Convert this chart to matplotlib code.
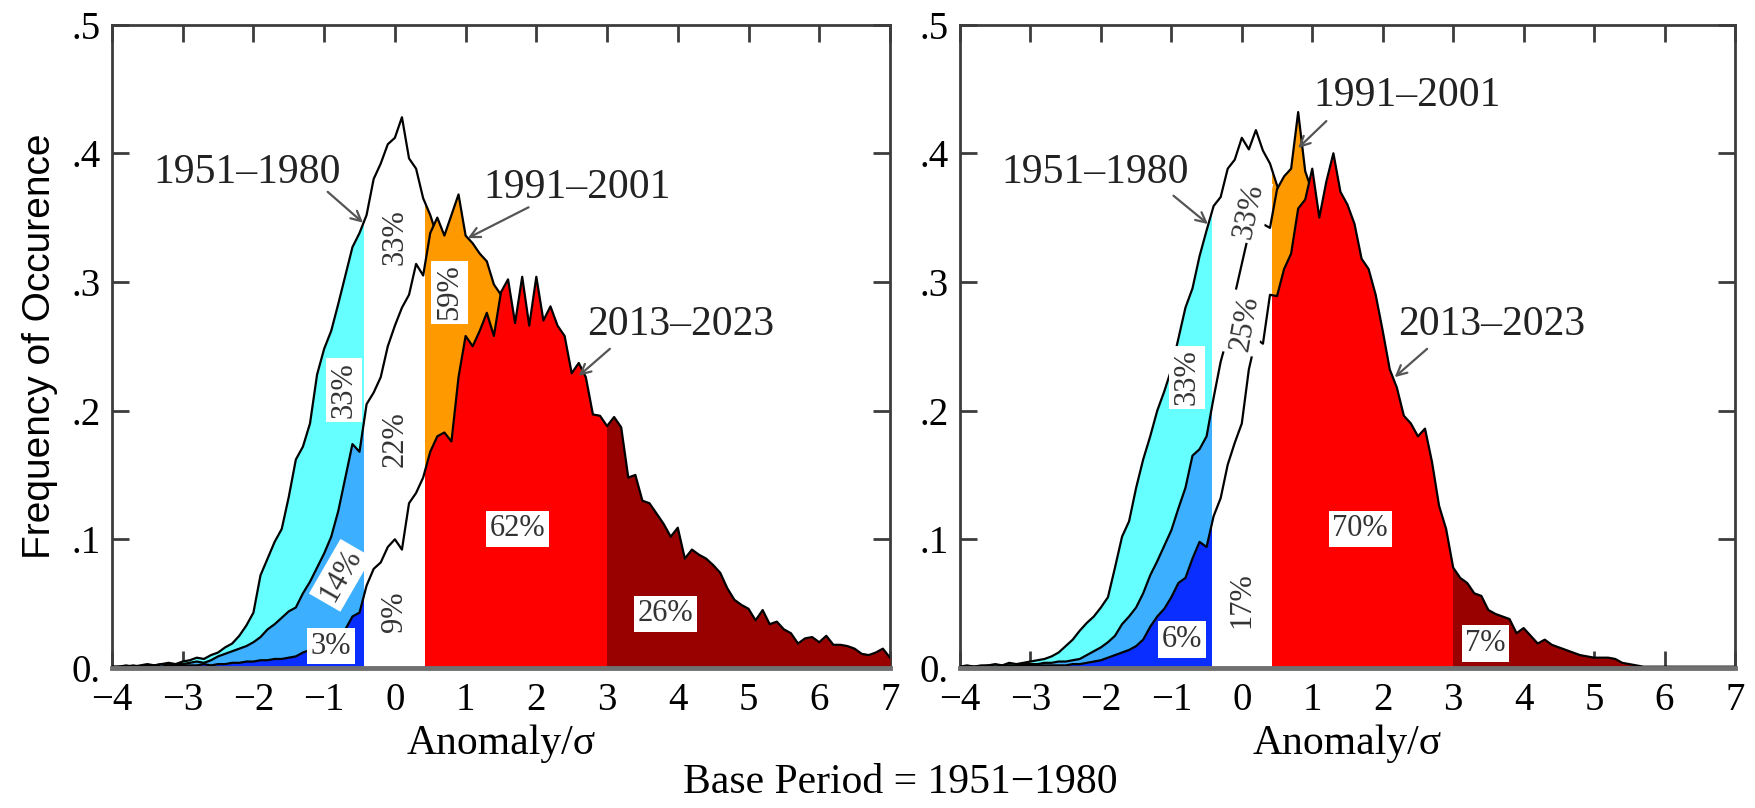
#!/usr/bin/env python3
"""Frequency of occurrence of local temperature anomalies (units of sigma),
three periods per panel, base period 1951-1980.

Output: out.png
"""

import numpy as np
import matplotlib.pyplot as plt
from matplotlib.patches import Rectangle


# bin centres, anomaly / sigma
ANOMALY = np.arange(-40, 71) / 10.0

# ---- left panel --------------------------------------------------------
LEFT_1951_1980 = [
    0.001, 0.001, 0.002, 0.001, 0.002, 0.003, 0.002, 0.003, 0.004, 0.003,
    0.005, 0.006, 0.008, 0.007, 0.010, 0.012, 0.016, 0.019, 0.025, 0.033,
    0.043, 0.072, 0.085, 0.098, 0.108, 0.133, 0.162, 0.172, 0.190, 0.228,
    0.248, 0.262, 0.283, 0.305, 0.327, 0.338, 0.352, 0.380, 0.392, 0.407,
    0.412, 0.428, 0.396, 0.388, 0.365, 0.352, 0.335, 0.310, 0.290, 0.270,
    0.245, 0.220, 0.195, 0.170, 0.150, 0.130, 0.110, 0.094, 0.078, 0.065,
    0.053, 0.043, 0.035, 0.028, 0.022, 0.017, 0.013, 0.010, 0.008, 0.006,
    0.004, 0.003, 0.003, 0.002, 0.002, 0.001, 0.001, 0.001, 0.001, 0.000,
    0.000, 0.000, 0.000, 0.000, 0.000, 0.000, 0.000, 0.000, 0.000, 0.000,
    0.000, 0.000, 0.000, 0.000, 0.000, 0.000, 0.000, 0.000, 0.000, 0.000,
    0.000, 0.000, 0.000, 0.000, 0.000, 0.000, 0.000, 0.000, 0.000, 0.000,
    0.000,
]
LEFT_1991_2001 = [
    0.001, 0.001, 0.001, 0.002, 0.001, 0.002, 0.002, 0.003, 0.002, 0.003,
    0.003, 0.004, 0.005, 0.004, 0.006, 0.009, 0.011, 0.013, 0.015, 0.017,
    0.020, 0.024, 0.030, 0.034, 0.039, 0.044, 0.047, 0.058, 0.067, 0.078,
    0.089, 0.102, 0.122, 0.148, 0.174, 0.168, 0.205, 0.214, 0.226, 0.250,
    0.266, 0.280, 0.290, 0.314, 0.305, 0.338, 0.350, 0.336, 0.352, 0.368,
    0.336, 0.330, 0.322, 0.316, 0.298, 0.290, 0.272, 0.255, 0.235, 0.215,
    0.195, 0.175, 0.155, 0.137, 0.120, 0.105, 0.090, 0.078, 0.066, 0.056,
    0.047, 0.040, 0.034, 0.028, 0.023, 0.019, 0.016, 0.013, 0.011, 0.009,
    0.007, 0.006, 0.005, 0.004, 0.003, 0.003, 0.002, 0.002, 0.001, 0.001,
    0.001, 0.001, 0.001, 0.000, 0.000, 0.000, 0.000, 0.000, 0.000, 0.000,
    0.000, 0.000, 0.000, 0.000, 0.000, 0.000, 0.000, 0.000, 0.000, 0.000,
    0.000,
]
LEFT_2013_2023 = [
    0.000, 0.001, 0.001, 0.001, 0.001, 0.001, 0.002, 0.001, 0.002, 0.002,
    0.002, 0.002, 0.002, 0.003, 0.002, 0.003, 0.003, 0.004, 0.004, 0.005,
    0.005, 0.006, 0.006, 0.007, 0.007, 0.008, 0.009, 0.012, 0.014, 0.016,
    0.018, 0.020, 0.024, 0.030, 0.040, 0.043, 0.064, 0.077, 0.082, 0.094,
    0.100, 0.092, 0.128, 0.136, 0.148, 0.168, 0.180, 0.183, 0.176, 0.226,
    0.258, 0.250, 0.262, 0.276, 0.258, 0.292, 0.302, 0.268, 0.304, 0.266,
    0.304, 0.270, 0.281, 0.266, 0.258, 0.229, 0.237, 0.226, 0.197, 0.196,
    0.188, 0.195, 0.187, 0.148, 0.150, 0.130, 0.128, 0.120, 0.112, 0.102,
    0.109, 0.085, 0.092, 0.088, 0.085, 0.080, 0.074, 0.062, 0.053, 0.049,
    0.046, 0.037, 0.045, 0.034, 0.036, 0.030, 0.027, 0.019, 0.023, 0.024,
    0.020, 0.025, 0.018, 0.018, 0.017, 0.015, 0.011, 0.010, 0.012, 0.015,
    0.008,
]

# ---- right panel -------------------------------------------------------
RIGHT_1951_1980 = [
    0.001, 0.002, 0.001, 0.002, 0.002, 0.003, 0.002, 0.004, 0.003, 0.004,
    0.005, 0.006, 0.007, 0.009, 0.012, 0.017, 0.022, 0.029, 0.035, 0.040,
    0.047, 0.055, 0.078, 0.102, 0.114, 0.140, 0.162, 0.180, 0.200, 0.215,
    0.232, 0.256, 0.280, 0.295, 0.320, 0.340, 0.359, 0.366, 0.388, 0.395,
    0.412, 0.403, 0.418, 0.402, 0.392, 0.375, 0.360, 0.335, 0.310, 0.285,
    0.260, 0.230, 0.200, 0.175, 0.150, 0.130, 0.110, 0.093, 0.077, 0.063,
    0.052, 0.042, 0.034, 0.027, 0.021, 0.016, 0.012, 0.009, 0.007, 0.005,
    0.004, 0.003, 0.002, 0.002, 0.001, 0.001, 0.001, 0.001, 0.000, 0.000,
    0.000, 0.000, 0.000, 0.000, 0.000, 0.000, 0.000, 0.000, 0.000, 0.000,
    0.000, 0.000, 0.000, 0.000, 0.000, 0.000, 0.000, 0.000, 0.000, 0.000,
    0.000, 0.000, 0.000, 0.000, 0.000, 0.000, 0.000, 0.000, 0.000, 0.000,
    0.000,
]
RIGHT_1991_2001 = [
    0.001, 0.001, 0.001, 0.001, 0.002, 0.001, 0.002, 0.002, 0.002, 0.003,
    0.003, 0.003, 0.004, 0.004, 0.005, 0.005, 0.006, 0.007, 0.010, 0.013,
    0.016, 0.020, 0.025, 0.034, 0.040, 0.047, 0.058, 0.072, 0.083, 0.095,
    0.107, 0.124, 0.140, 0.165, 0.170, 0.180, 0.210, 0.238, 0.258, 0.290,
    0.314, 0.338, 0.330, 0.345, 0.342, 0.372, 0.382, 0.388, 0.432, 0.386,
    0.370, 0.345, 0.335, 0.310, 0.285, 0.260, 0.235, 0.210, 0.185, 0.160,
    0.140, 0.120, 0.100, 0.085, 0.070, 0.058, 0.047, 0.038, 0.030, 0.024,
    0.019, 0.015, 0.012, 0.009, 0.007, 0.006, 0.004, 0.003, 0.003, 0.002,
    0.002, 0.001, 0.001, 0.001, 0.000, 0.000, 0.000, 0.000, 0.000, 0.000,
    0.000, 0.000, 0.000, 0.000, 0.000, 0.000, 0.000, 0.000, 0.000, 0.000,
    0.000, 0.000, 0.000, 0.000, 0.000, 0.000, 0.000, 0.000, 0.000, 0.000,
    0.000,
]
RIGHT_2013_2023 = [
    0.000, 0.001, 0.001, 0.001, 0.001, 0.001, 0.001, 0.002, 0.001, 0.002,
    0.002, 0.002, 0.002, 0.002, 0.002, 0.002, 0.003, 0.003, 0.004, 0.005,
    0.006, 0.008, 0.010, 0.012, 0.014, 0.017, 0.022, 0.032, 0.040, 0.046,
    0.055, 0.066, 0.070, 0.085, 0.098, 0.094, 0.118, 0.132, 0.158, 0.175,
    0.190, 0.232, 0.256, 0.252, 0.290, 0.289, 0.310, 0.322, 0.357, 0.364,
    0.388, 0.350, 0.378, 0.400, 0.370, 0.360, 0.345, 0.318, 0.310, 0.290,
    0.262, 0.232, 0.218, 0.196, 0.190, 0.180, 0.186, 0.160, 0.126, 0.108,
    0.078, 0.070, 0.066, 0.058, 0.056, 0.045, 0.042, 0.040, 0.038, 0.027,
    0.031, 0.025, 0.019, 0.022, 0.018, 0.016, 0.014, 0.012, 0.010, 0.009,
    0.008, 0.008, 0.008, 0.007, 0.004, 0.003, 0.002, 0.001, 0.001, 0.001,
    0.001, 0.001, 0.001, 0.001, 0.001, 0.001, 0.001, 0.001, 0.001, 0.001,
    0.001,
]

PERIODS = ["1951\u20131980", "1991\u20132001", "2013\u20132023"]

# category limits in sigma: cold | normal | hot | extremely hot
LIMITS = [-4.0, -0.43, 0.43, 3.0, 7.0]
COLORS = {
    "1951\u20131980": ["#66ffff", "white", "#ff9900", "#ff9900"],
    "1991\u20132001": ["#3cb0ff", "white", "#ff9900", "#ff9900"],
    "2013\u20132023": ["#0a2eff", "white", "#ff0000", "#990000"],
}

# percentage boxes: text, x, y, rotation
LEFT_PCT = [
    ("33%", -0.72, 0.216, 90), ("14%", -0.77, 0.072, 60), ("3%", -0.9, 0.017, 0),
    ("33%", 0.0, 0.335, 90), ("22%", 0.0, 0.178, 90), ("9%", 0.0, 0.044, 90),
    ("59%", 0.77, 0.292, 90), ("62%", 1.73, 0.108, 0), ("26%", 3.83, 0.042, 0),
]
RIGHT_PCT = [
    ("33%", -0.78, 0.226, 90), ("33%", 0.1, 0.355, 78), ("25%", 0.04, 0.268, 80),
    ("17%", 0.0, 0.053, 90), ("6%", -0.85, 0.022, 0), ("70%", 1.68, 0.108, 0),
    ("7%", 3.46, 0.019, 0),
]

# period labels: text, text x/y, arrow start x/y, arrow tip x/y
LEFT_NOTES = [
    ("1951\u20131980", -2.09, 0.385, -0.95, 0.370, -0.45, 0.346),
    ("1991\u20132001", 2.57, 0.373, 1.89, 0.358, 1.03, 0.334),
    ("2013\u20132023", 4.04, 0.267, 3.04, 0.248, 2.60, 0.227),
]
RIGHT_NOTES = [
    ("1951\u20131980", -2.08, 0.385, -0.97, 0.367, -0.48, 0.345),
    ("1991\u20132001", 2.34, 0.445, 1.20, 0.425, 0.80, 0.404),
    ("2013\u20132023", 3.55, 0.267, 2.63, 0.248, 2.17, 0.226),
]

XTICKS = list(range(-4, 8))
XTICK_LABELS = ["\u22124", "\u22123", "\u22122", "\u22121", "0", "1", "2",
                "3", "4", "5", "6", "7"]
YTICKS = [0.0, 0.1, 0.2, 0.3, 0.4, 0.5]
YTICK_LABELS = ["0.", ".1", ".2", ".3", ".4", ".5"]

SPINE = "#3c3c3c"


def draw_panel(ax, curves, pct, notes):
    # each later period is drawn over the earlier one, fill and outline
    for i, (period, values) in enumerate(zip(PERIODS, curves)):
        z = 2 + 2 * i
        for k, color in enumerate(COLORS[period]):
            lo, hi = LIMITS[k], LIMITS[k + 1]
            poly = ax.fill_between(ANOMALY, 0, values, color=color, lw=0,
                                   zorder=z)
            clip = Rectangle((lo, -0.1), hi - lo, 1.0, transform=ax.transData)
            poly.set_clip_path(clip)
        ax.plot(ANOMALY, values, color="black", lw=1.6, zorder=z + 1)

    for text, x, y, rot in pct:
        ax.text(x, y, text, rotation=rot, ha="center", va="center",
                fontsize=22, color="#333333", zorder=10,
                bbox=dict(boxstyle="square,pad=0.12", fc="white", ec="none"))

    for text, tx, ty, sx, sy, px, py in notes:
        ax.text(tx, ty, text, ha="center", va="center", fontsize=30,
                color="#222222", zorder=11)
        ax.annotate("", xy=(px, py), xytext=(sx, sy), zorder=11,
                    arrowprops=dict(arrowstyle="->", color="#555555", lw=1.6,
                                    shrinkA=0, shrinkB=0,
                                    mutation_scale=18))

    ax.set_xlim(-4, 7)
    ax.set_ylim(0, 0.5)
    ax.set_xticks(XTICKS)
    ax.set_xticklabels(XTICK_LABELS)
    ax.set_yticks(YTICKS)
    ax.set_yticklabels(YTICK_LABELS)
    ax.tick_params(direction="in", length=12, width=2, top=True, right=True,
                   labelsize=28, color=SPINE, pad=8)
    ax.tick_params(axis="x", pad=10)
    for side in ["left", "right", "top"]:
        ax.spines[side].set_color(SPINE)
        ax.spines[side].set_linewidth(2)
    ax.spines["bottom"].set_color("#707070")
    ax.spines["bottom"].set_linewidth(3.5)
    ax.spines["bottom"].set_zorder(12)
    ax.set_xlabel("Anomaly/\u03c3", fontsize=30, labelpad=4)


def main():
    plt.rcParams["font.family"] = ["Liberation Serif", "DejaVu Serif"]

    fig = plt.figure(figsize=(17.55, 8.08), dpi=100)
    ax1 = fig.add_axes([0.0638, 0.1733, 0.4433, 0.7963])
    ax2 = fig.add_axes([0.547, 0.1733, 0.4416, 0.7963])

    draw_panel(ax1, [LEFT_1951_1980, LEFT_1991_2001, LEFT_2013_2023],
               LEFT_PCT, LEFT_NOTES)
    draw_panel(ax2, [RIGHT_1951_1980, RIGHT_1991_2001, RIGHT_2013_2023],
               RIGHT_PCT, RIGHT_NOTES)

    ax1.set_ylabel("Frequency of Occurence", family="Liberation Sans",
                   fontsize=28, labelpad=10)

    fig.text(0.513, 0.031, "Base Period = 1951\u22121980", ha="center",
             va="center", fontsize=30)

    fig.savefig("out.png", dpi=100)
    plt.close(fig)


if __name__ == "__main__":
    main()
